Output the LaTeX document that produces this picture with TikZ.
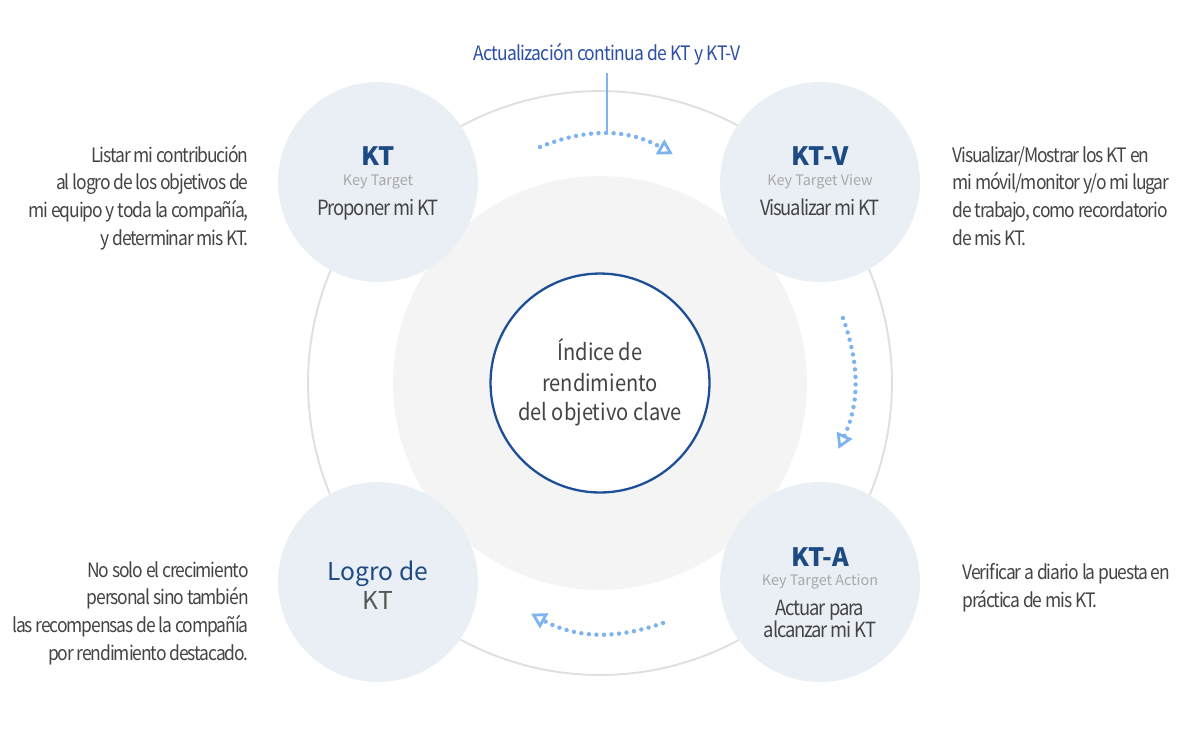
\documentclass[tikz,border=0pt]{standalone}
\usepackage{fontspec}
\setmainfont{Noto Sans CJK KR}
\newfontfamily\narrowfont{Noto Sans CJK KR}[FakeStretch=0.88, LetterSpace=-5.5]
\newfontfamily\labelfont{Noto Sans CJK KR}[FakeStretch=0.88, LetterSpace=-3.5]
\newfontfamily\hubfont{Noto Sans CJK KR}[FakeStretch=0.88]
\usetikzlibrary{positioning,arrows.meta}
\definecolor{ringline}{HTML}{E0E0E0}
\definecolor{corefill}{HTML}{F4F4F4}
\definecolor{corering}{HTML}{1D4F96}
\definecolor{bubblefill}{HTML}{EAEFF6}
\definecolor{titleblue}{HTML}{1C4A82}
\definecolor{notegray}{HTML}{444444}
\definecolor{subgray}{HTML}{A8A8A8}
\definecolor{flowblue}{HTML}{7DB3EF}
\definecolor{labelblue}{HTML}{2C4EA6}

\begin{document}
\begin{tikzpicture}[x=0.02cm, y=-0.02cm,
    bubble/.style={circle, fill=bubblefill, minimum size=4cm, inner sep=0pt},
    ktitle/.style={font=\fontsize{14.4}{16}\selectfont\bfseries, text=titleblue, anchor=base, inner sep=0pt},
    ksub/.style={font=\fontsize{8.2}{9}\selectfont, text=subgray, anchor=base, inner sep=0pt},
    kbody/.style={font=\narrowfont\fontsize{11.9}{12.5}\selectfont, text=notegray, anchor=base, inner sep=0pt},
    hubtext/.style={font=\hubfont\fontsize{13}{17}\selectfont, text=notegray, anchor=base, inner sep=0pt},
    note/.style={font=\narrowfont\fontsize{11.3}{15.7}\selectfont, text=notegray, inner sep=0pt},
    flow/.style={flowblue, line width=2.5pt, line cap=round, dash pattern=on 0pt off 4.3pt,
      -{Triangle[open, length=8.5pt, width=9.5pt, line width=1.6pt, sep=2pt]}}]
  \useasboundingbox[fill=white] (0,0) rectangle (1200,735);

  % rings
  \node[circle, draw=ringline, line width=1.1pt, minimum size=11.68cm, inner sep=0pt] (ring) at (600,383) {};
  \node[circle, fill=corefill, minimum size=8.28cm, inner sep=0pt] (core) at (600,383) {};
  \node[circle, draw=corering, fill=white, line width=1.3pt, minimum size=4.38cm, inner sep=0pt] (hub) at (600,383) {};

  \node[bubble] (kt) at (378,182) {};
  \node[bubble] (ktv) at (820,182) {};
  \node[bubble] (kta) at (820,582) {};
  \node[bubble] (logro) at (378,582) {};

  % center
  \node[hubtext] (idx1) at (600,360) {Índice de};
  \node[hubtext] (idx2) at (600,391) {rendimiento};
  \node[hubtext] (idx3) at (600,420) {del objetivo clave};

  % circle texts
  \node[ktitle] (kt-t) at (378,165) {KT};
  \node[ksub] (kt-s) at (378,185) {Key Target};
  \node[kbody] (kt-b) at (378,215) {Proponer mi KT};

  \node[ktitle] (ktv-t) at (820,165) {KT-V};
  \node[ksub] (ktv-s) at (820,185) {Key Target View};
  \node[kbody] (ktv-b) at (820,215) {Visualizar mi KT};

  \node[ktitle] (kta-t) at (820,566) {KT-A};
  \node[ksub] (kta-s) at (820,585) {Key Target Action};
  \node[kbody] (kta-b1) at (820,615) {Actuar para};
  \node[kbody] (kta-b2) at (820,637) {alcanzar mi KT};

  \node[font=\fontsize{14}{16}\selectfont, text=titleblue, anchor=base, inner sep=0pt] (logro-t) at (378,580) {Logro de};
  \node[font=\fontsize{14}{16}\selectfont, text=notegray!90, anchor=base, inner sep=0pt] (logro-b) at (378,609) {KT};

  % side notes (base = last line)
  \node[note, align=right, anchor=base east] (n-kt) at (249,245)
    {Listar mi contribución\\al logro de los objetivos de\\mi equipo y toda la compañía,\\y determinar mis KT.};
  \node[note, align=left, anchor=base west] (n-ktv) at (952,245)
    {Visualizar/Mostrar los KT en\\mi móvil/monitor y/o mi lugar\\de trabajo, como recordatorio\\de mis KT.};
  \node[note, align=right, anchor=base east] (n-logro) at (249,660)
    {No solo el crecimiento\\personal sino también\\las recompensas de la compañía\\por rendimiento destacado.};
  \node[note, align=left, anchor=base west] (n-kta) at (962,607)
    {Verificar a diario la puesta en\\práctica de mis KT.};

  % flow arrows
  \coordinate (a1) at (540,147);
  \coordinate (a2) at (676,156);
  \coordinate (b1) at (843,318);
  \coordinate (b2) at (837,452);
  \coordinate (c1) at (663,623);
  \coordinate (c2) at (528,612);
  \draw[flow] (a1) to[bend left=26] (a2);
  \draw[flow] (b1) to[bend left=22] (b2);
  \draw[flow] (c1) to[bend left=24] (c2);

  \node[font=\labelfont\fontsize{11.3}{14}\selectfont, text=labelblue, anchor=base, inner sep=0pt] (upd) at (607,60)
    {Actualización continua de KT y KT-V};
  \coordinate (tick) at (607,133);
  \draw[flowblue, line width=0.6pt] (tick |- 0,73) -- (tick);
\end{tikzpicture}
\end{document}
